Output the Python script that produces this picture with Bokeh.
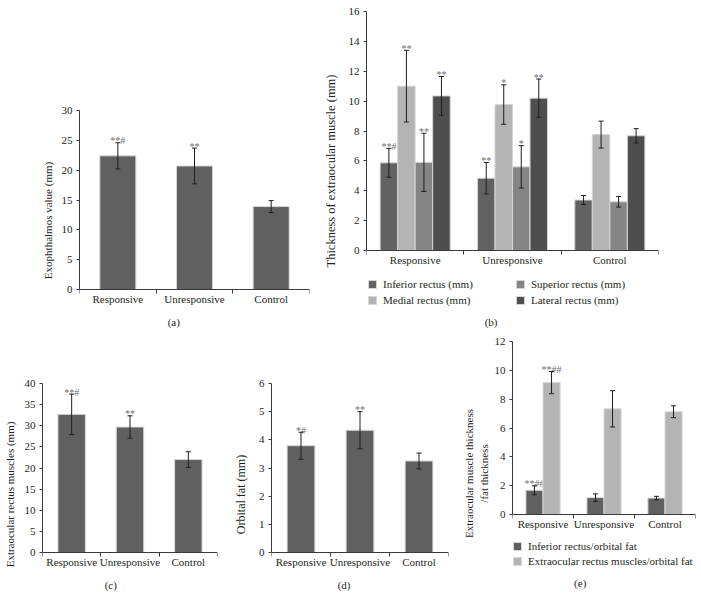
from bokeh.plotting import figure
from bokeh.models import (FixedTicker, Range1d, Whisker, ColumnDataSource, Label,
                          Legend, LegendItem, TeeHead)
from bokeh.layouts import row, column
from bokeh.core.properties import value
from bokeh.embed import file_html
from bokeh.resources import INLINE

FONT = "Liberation Serif"
TXT = "#231f20"
AX = "#3a3a3a"
ERR = "#1e1e1e"
SIG = "#6e6e6e"
EDGE = "#d6d6d6"

groups = ["Responsive", "Unresponsive", "Control"]

# (a) Exophthalmos value (mm)
exo_mean = [22.4, 20.7, 13.9]
exo_err = [2.2, 3.0, 1.0]
exo_sig = ["**#", "**", ""]

# (b) Thickness of extraocular muscle (mm)
inf_mean = [5.87, 4.84, 3.38]
inf_err = [0.97, 1.05, 0.30]
inf_sig = ["**#", "**", ""]
med_mean = [11.0, 9.77, 7.76]
med_err = [2.4, 1.32, 0.90]
med_sig = ["**", "*", ""]
sup_mean = [5.9, 5.6, 3.26]
sup_err = [1.95, 1.42, 0.35]
sup_sig = ["**", "*", ""]
lat_mean = [10.35, 10.2, 7.68]
lat_err = [1.30, 1.28, 0.48]
lat_sig = ["**", "**", ""]

# (c) Extraocular rectus muscles (mm)
erm_mean = [32.7, 29.7, 22.0]
erm_err = [4.8, 2.65, 1.85]
erm_sig = ["**#", "**", ""]

# (d) Orbital fat (mm)
fat_mean = [3.79, 4.34, 3.25]
fat_err = [0.48, 0.66, 0.28]
fat_sig = ["*#", "**", ""]

# (e) ratios
rinf_mean = [1.68, 1.17, 1.14]
rinf_err = [0.31, 0.26, 0.12]
rinf_sig = ["**##", "", ""]
rerm_mean = [9.15, 7.33, 7.13]
rerm_err = [0.77, 1.26, 0.41]
rerm_sig = ["**##", "", ""]

C_MAIN = "#606060"
C_INF = "#626262"
C_MED = "#b4b4b4"
C_SUP = "#858585"
C_LAT = "#4e4e4e"


def base_fig(w, h, bl, br, top_px, zero_px, ymax, ystep, ylabel, lab_size, lab_standoff):
    # frame runs from top_px down to the figure bottom; value 0 sits at zero_px
    ystart = -ymax * (h - zero_px) / (zero_px - top_px)
    p = figure(width=w, height=h, x_range=Range1d(0, len(groups)),
               y_range=Range1d(ystart, ymax),
               output_backend="svg", toolbar_location=None,
               min_border_left=bl, min_border_right=br, min_border_top=top_px,
               min_border_bottom=0)
    p.outline_line_color = None
    p.xgrid.visible = False
    p.ygrid.visible = False
    xa = p.xaxis[0]
    ya = p.yaxis[0]
    centers = [i + 0.5 for i in range(len(groups))]
    xa.fixed_location = 0
    xa.ticker = FixedTicker(ticks=centers, minor_ticks=list(range(len(groups) + 1)))
    xa.major_label_overrides = {c: g for c, g in zip(centers, groups)}
    xa.major_tick_out = 0
    xa.major_tick_in = 0
    xa.minor_tick_out = 4
    xa.minor_tick_in = 0
    xa.major_label_standoff = -1
    ya.bounds = (0, ymax)
    ya.ticker = FixedTicker(ticks=list(range(0, ymax + 1, ystep)))
    ya.major_tick_out = 3
    ya.major_tick_in = 0
    ya.minor_tick_out = 0
    ya.minor_tick_in = 0
    ya.major_label_standoff = 4
    ya.axis_label = ylabel
    ya.axis_label_text_font_size = lab_size
    ya.axis_label_standoff = lab_standoff
    for ax in (xa, ya):
        ax.axis_line_color = AX
        ax.major_tick_line_color = AX
        ax.minor_tick_line_color = AX
        ax.major_label_text_font = FONT
        ax.major_label_text_font_size = "11px"
        ax.major_label_text_color = TXT
        ax.axis_label_text_font = FONT
        ax.axis_label_text_font_style = "normal"
        ax.axis_label_text_color = TXT
    return p, centers


def add_bars(p, xs, means, errs, sigs, width, color, sig_size="10px"):
    r = p.vbar(x=xs, top=means, width=width, bottom=0, fill_color=color,
               line_color=EDGE, line_width=1)
    up = [m + e for m, e in zip(means, errs)]
    lo = [m - e for m, e in zip(means, errs)]
    src = ColumnDataSource(dict(x=xs, upper=up, lower=lo))
    wk = Whisker(source=src, base="x", upper="upper", lower="lower",
                 line_color=ERR, line_width=1, level="annotation",
                 upper_head=TeeHead(size=5, line_color=ERR, line_width=1),
                 lower_head=TeeHead(size=5, line_color=ERR, line_width=1))
    p.add_layout(wk)
    p.text(x=xs, y=up, text=sigs, text_font=value(FONT), text_font_size=sig_size,
           text_align="center", text_baseline="alphabetic", y_offset=-2, text_color=SIG)
    return r


def caption(p, text, x, y):
    p.add_layout(Label(x=x, y=y, text=text, text_align="center", text_baseline="middle",
                       text_font=FONT, text_font_size="11px", text_color=TXT))


def legend(items, loc, lh):
    return Legend(items=items, location=loc, border_line_color=None, background_fill_alpha=0,
                  padding=0, margin=0, spacing=3, glyph_width=10, glyph_height=10,
                  label_height=lh, label_standoff=6, label_text_font=FONT,
                  label_text_font_size="11px", label_text_color=TXT)


# ---- (a)
pa, ca = base_fig(320, 330, 79, 11, 110, 289, 30, 5, "Exophthalmos value (mm)", "11px", 5)
add_bars(pa, ca, exo_mean, exo_err, exo_sig, 0.47, C_MAIN)
caption(pa, "(a)", 1.23, -5.53)

# ---- (b)
pb, cb = base_fig(380, 330, 42, 42, 11, 250, 16, 2, "Thickness of extraocular muscle (mm)", "12.5px", 8)
bw = 0.18
r_inf = add_bars(pb, [c - 0.27 for c in cb], inf_mean, inf_err, inf_sig, bw, C_INF)
r_med = add_bars(pb, [c - 0.09 for c in cb], med_mean, med_err, med_sig, bw, C_MED)
r_sup = add_bars(pb, [c + 0.09 for c in cb], sup_mean, sup_err, sup_sig, bw, C_SUP)
r_lat = add_bars(pb, [c + 0.27 for c in cb], lat_mean, lat_err, lat_sig, bw, C_LAT)
pb.add_layout(legend([LegendItem(label="Inferior rectus (mm)", renderers=[r_inf]),
                      LegendItem(label="Medial rectus (mm)", renderers=[r_med])], (1, 24), 13))
pb.add_layout(legend([LegendItem(label="Superior rectus (mm)", renderers=[r_sup]),
                      LegendItem(label="Lateral rectus (mm)", renderers=[r_lat])], (149, 24), 13))
caption(pb, "(b)", 1.28, -4.82)

# ---- (c)
pc, cc = base_fig(230, 275, 42, 13, 53, 222, 40, 5, "Extraocular rectus muscles (mm)", "11px", 6)
add_bars(pc, cc, erm_mean, erm_err, erm_sig, 0.47, C_MAIN)
caption(pc, "(c)", 1.17, -7.73)

# ---- (d)
pd_, cd = base_fig(230, 275, 32, 12, 53, 222, 6, 1, "Orbital fat (mm)", "12px", 8)
add_bars(pd_, cd, fat_mean, fat_err, fat_sig, 0.47, C_MAIN)
caption(pd_, "(d)", 1.23, -1.16)

# ---- (e)
pe, ce = base_fig(240, 275, 47, 5, 11, 184, 12, 2,
                  "Extraocular muscle thickness\n/fat thickness", "11px", 2)
ew = 0.28
r1 = add_bars(pe, [c - 0.14 for c in ce], rinf_mean, rinf_err, rinf_sig, ew, C_MAIN)
r2 = add_bars(pe, [c + 0.14 for c in ce], rerm_mean, rerm_err, rerm_sig, ew, C_MED)
pe.add_layout(legend([LegendItem(label="Inferior rectus/orbital fat", renderers=[r1]),
                      LegendItem(label="Extraocular rectus muscles/orbital fat", renderers=[r2])],
                     (0, 38), 12))
caption(pe, "(e)", 1.11, -4.78)

layout = column(row(column(pa), column(pb)), row(column(pc), column(pd_), column(pe)))
open("out.html", "w").write(file_html(layout, INLINE))
